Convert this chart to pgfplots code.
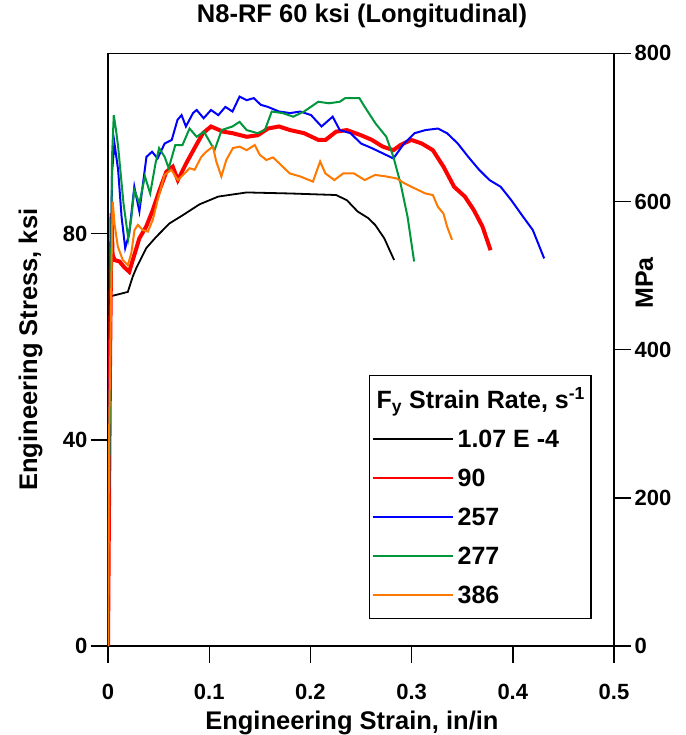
\documentclass[border=0pt]{standalone}
\usepackage{fontspec}
\setmainfont{Liberation Sans}
\usepackage{pgfplots}
\pgfplotsset{compat=1.18}
\definecolor{cgreen}{RGB}{0,150,60}
\definecolor{corange}{RGB}{255,120,0}
\begin{document}
\begin{tikzpicture}[font=\bfseries]
\useasboundingbox (-108pt,-89pt) rectangle (577pt,646pt);
\begin{axis}[
  at={(0,0)}, anchor=south west, scale only axis,
  width=506pt, height=592.7pt,
  xmin=0, xmax=0.5, ymin=0, ymax=115,
  xtick={0,0.1,0.2,0.3,0.4,0.5}, ytick={0,40,80},
  xtick pos=left, ytick pos=left,
  tick align=outside, major tick length=17pt,
  axis line style={line width=1.4pt},
  every tick/.style={line width=1.4pt, black},
  /pgf/number format/assume math mode=true,
  ticklabel style={font=\bfseries\fontsize{22}{22}\selectfont},
  xticklabel style={yshift=-18pt},
  xlabel={Engineering Strain, in/in},
  xlabel style={font=\bfseries\fontsize{25.5}{25.5}\selectfont, at={(axis description cs:0.482,0)}, anchor=base, yshift=-83pt},
  ylabel={Engineering Stress, ksi},
  ylabel style={font=\bfseries\fontsize{25.5}{25.5}\selectfont, at={(axis description cs:-0.1403,0.5)}, anchor=base, rotate=0},
  title={N8-RF 60 ksi (Longitudinal)},
  title style={font=\bfseries\fontsize{25.5}{25.5}\selectfont, at={(axis description cs:0.502,1)}, anchor=base, yshift=25pt},
  legend cell align=left,
  legend image code/.code={\draw[#1] (0pt,0pt) -- (80pt,0pt);},
  legend style={at={(axis description cs:0.5158,0.4572)}, anchor=north west,
    draw=black, line width=1.3pt, inner xsep=2pt, inner ysep=8pt, row sep=7pt,
    font=\bfseries\fontsize{25}{25}\selectfont,
    nodes={inner xsep=4pt, inner ysep=3pt, text height=22pt, text depth=4pt}},
]
\addlegendimage{empty legend}
\addlegendentry{\hspace*{-81pt}F\textsubscript{y} Strain Rate, s\textsuperscript{-1}}
\addlegendimage{black, line width=2pt}
\addlegendentry{1.07 E -4}
\addlegendimage{red, line width=2pt}
\addlegendentry{90}
\addlegendimage{blue, line width=2pt}
\addlegendentry{257}
\addlegendimage{cgreen, line width=2pt}
\addlegendentry{277}
\addlegendimage{corange, line width=2pt}
\addlegendentry{386}
\addplot[black, line width=1.8pt, forget plot] coordinates {
(0,0) (0.0014,67.8) (0.0196,68.7) (0.0245,71.7) (0.0279,73.3) (0.0378,77.2) (0.0477,79.4) (0.0608,82.0) (0.074,83.6) (0.0905,85.7) (0.109,87.2) (0.137,88.0) (0.18,87.8) (0.2254,87.5) (0.236,86.5) (0.2467,84.3) (0.2573,83.0) (0.264,81.7) (0.273,79.1) (0.2827,74.9)
};
\addplot[red, line width=4pt, forget plot] coordinates {
(0,0) (0.002,55) (0.0035,84) (0.0045,76) (0.0064,74.9) (0.0114,74.6) (0.016,73.5) (0.021,72.6) (0.0245,74.9) (0.031,79.1) (0.0378,81.4) (0.0443,84.6) (0.051,88.5) (0.0576,92.0) (0.064,93.0) (0.069,90.4) (0.0774,93.7) (0.0872,97.2) (0.0938,99.5) (0.1018,100.8) (0.1136,99.8) (0.123,99.5) (0.137,98.8) (0.148,99.1) (0.158,100.4) (0.169,100.8) (0.180,100.1) (0.1937,99.5) (0.2078,98.2) (0.215,98.2) (0.2254,99.8) (0.236,100.1) (0.250,99.1) (0.2607,98.2) (0.2714,96.9) (0.282,96.2) (0.289,97.2) (0.2996,98.2) (0.310,97.5) (0.321,96.2) (0.3315,93.0) (0.342,89.1) (0.3526,87.2) (0.3614,84.6) (0.370,81.4) (0.378,76.8)
};
\addplot[blue, line width=2pt, forget plot] coordinates {
(0,0) (0.002,60) (0.004,92) (0.0064,97.5) (0.010,92.4) (0.0134,83.3) (0.017,77.2) (0.021,80) (0.026,89.1) (0.031,84.3) (0.038,94.9) (0.0435,95.9) (0.049,94.6) (0.056,97.5) (0.063,98.2) (0.0687,102.1) (0.0727,103.0) (0.077,100.8) (0.084,103.4) (0.0876,104.0) (0.0945,102.4) (0.1018,104.0) (0.109,103.0) (0.116,104.6) (0.123,103.7) (0.130,106.6) (0.137,105.9) (0.144,106.3) (0.151,105.0) (0.158,104.6) (0.169,103.7) (0.180,103.4) (0.190,103.7) (0.2007,103.0) (0.211,100.8) (0.222,102.7) (0.229,100.1) (0.2396,99.5) (0.250,97.5) (0.2607,96.6) (0.2714,95.6) (0.282,94.6) (0.2926,97.5) (0.303,99.5) (0.3137,100.1) (0.326,100.4) (0.335,99.5) (0.3456,97.5) (0.356,94.9) (0.3667,92.4) (0.377,90.4) (0.388,89.1) (0.3985,86.5) (0.409,83.6) (0.4198,80.7) (0.431,75.2)
};
\addplot[cgreen, line width=2pt, forget plot] coordinates {
(0,0) (0.002,50) (0.004,95) (0.0057,103.0) (0.008,100) (0.010,96.9) (0.0153,85.9) (0.020,79.1) (0.023,83) (0.026,88.5) (0.031,85.9) (0.0365,91.1) (0.0417,87.8) (0.047,93.7) (0.0505,96.6) (0.056,94.9) (0.060,92.7) (0.0665,97.2) (0.0736,97.2) (0.0806,100.4) (0.0876,98.8) (0.0948,99.8) (0.1053,96.2) (0.1123,100.1) (0.123,100.8) (0.130,101.7) (0.137,100.1) (0.1478,99.5) (0.155,100.1) (0.1618,103.7) (0.1725,103.4) (0.183,102.7) (0.1937,103.7) (0.2078,105.6) (0.2184,105.3) (0.229,105.6) (0.2343,106.3) (0.2484,106.3) (0.2537,104.6) (0.2643,101.4) (0.275,98.8) (0.282,94.9) (0.289,89.8) (0.296,83.3) (0.3025,74.6)
};
\addplot[corange, line width=2pt, forget plot] coordinates {
(0,0) (0.001,40) (0.0025,60) (0.004,80) (0.0047,86.2) (0.0064,82.0) (0.0097,77.5) (0.0146,74.9) (0.0196,73.9) (0.023,76.2) (0.0262,80.7) (0.0295,81.7) (0.0344,80.7) (0.0394,80.4) (0.0443,82.7) (0.049,86.5) (0.0559,91.4) (0.0625,92.4) (0.069,90.4) (0.0757,91.7) (0.0806,92.7) (0.0856,92.4) (0.0922,94.9) (0.0971,95.9) (0.1037,96.9) (0.107,94.0) (0.112,91.1) (0.1169,94.3) (0.1234,96.6) (0.130,96.9) (0.137,96.2) (0.145,97.2) (0.150,95.3) (0.1565,94.3) (0.163,94.8) (0.169,93.7) (0.1795,91.7) (0.190,91.1) (0.2025,90.1) (0.2096,94.0) (0.2148,91.7) (0.2236,90.4) (0.2325,91.7) (0.243,91.7) (0.2537,90.4) (0.264,91.4) (0.275,91.1) (0.2855,90.7) (0.2926,89.8) (0.303,88.8) (0.3137,87.8) (0.321,87.5) (0.326,85.2) (0.3315,83.9) (0.335,81.4) (0.340,78.8)
};
\end{axis}
\begin{axis}[
  at={(0,0)}, anchor=south west, scale only axis,
  width=506pt, height=592.7pt,
  xmin=0, xmax=0.5, ymin=0, ymax=800,
  axis x line=none, axis y line*=right,
  ytick={0,200,400,600,800},
  tick align=outside, major tick length=17pt,
  axis line style={line width=1.4pt, -},
  every tick/.style={line width=1.4pt, black},
  /pgf/number format/assume math mode=true,
  ticklabel style={font=\bfseries\fontsize{22}{22}\selectfont},
  ylabel={MPa},
  ylabel style={font=\bfseries\fontsize{25}{25}\selectfont, at={(axis description cs:1.077,0.6125)}, anchor=base, rotate=0},
]
\end{axis}
\end{tikzpicture}
\end{document}
